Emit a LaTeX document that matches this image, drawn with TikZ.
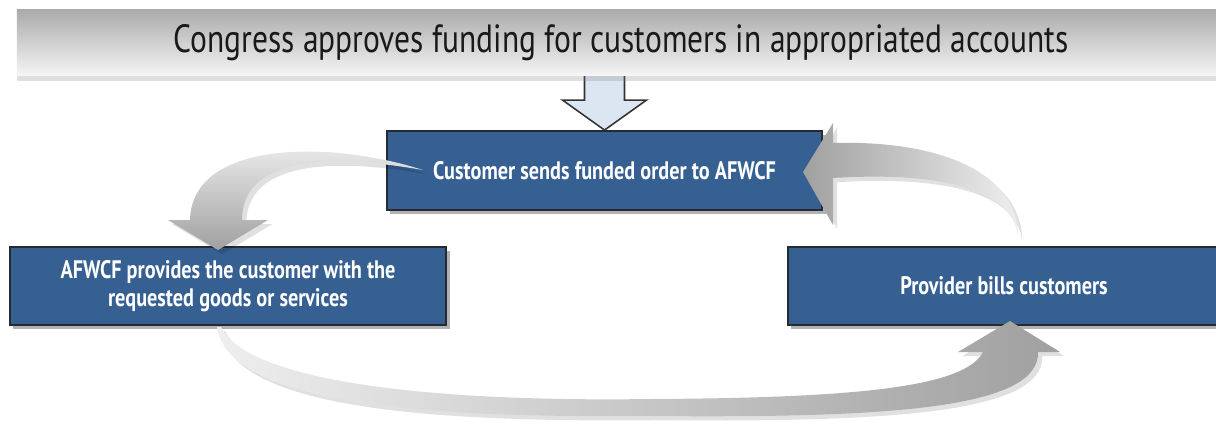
\documentclass[tikz,border=0pt]{standalone}
\usepackage{fontspec}
\setmainfont{PT Sans}[FakeStretch=0.8]
\usetikzlibrary{calc,shadows}
\definecolor{boxBlue}{RGB}{54,95,146}
\definecolor{boxEdge}{RGB}{38,42,50}
\definecolor{downFill}{RGB}{220,230,242}
\definecolor{flowGray}{RGB}{160,160,160}
\definecolor{flowLight}{RGB}{238,238,238}

\tikzset{
  stepbox/.style={draw=boxEdge,fill=boxBlue,line width=1.3pt,text=white,align=center,inner sep=0pt,
    font=\fontsize{18}{20}\selectfont\bfseries,
    drop shadow={shadow xshift=2.5pt,shadow yshift=-3pt,fill=black,opacity=0.3}},
  flowarrow/.style={draw=none,drop shadow={shadow xshift=3pt,shadow yshift=-3pt,fill=black,opacity=0.12}}
}

\begin{document}
\begin{tikzpicture}[x=0.025cm,y=-0.025cm]
\useasboundingbox (0,0) rectangle (1216,423);

% the three steps
\node[stepbox,minimum width=10.875cm,minimum height=1.975cm] (order) at (604.5,170.5) {Customer sends funded order to AFWCF};
\node[stepbox,minimum width=10.9cm,minimum height=1.95cm] (provide) at (228,286) {AFWCF provides the customer with the\\requested goods or services};
\node[stepbox,minimum width=10.8cm,minimum height=1.95cm,anchor=west] (bills) at (787,286) {Provider bills customers};

% funding arrow
\draw[fill=downFill,draw=black!80,line width=1.1pt,line join=miter] (order.north) -- ++(-42,-30) -- ++(22,0) -- ++(0,-30) -- ++(40,0) -- ++(0,30) -- ++(22,0) -- cycle;

\node[minimum width=30.2cm,minimum height=1.625cm,inner sep=0pt,top color=black!33,bottom color=white!96!black,
  drop shadow={shadow xshift=0pt,shadow yshift=-4pt,opacity=0.25},
  font=\fontsize{28}{32}\selectfont,text=black!90] (banner) at (621,42.5) {Congress approves funding for customers in appropriated accounts};

% curved flows
\path[flowarrow,top color=flowLight,bottom color=flowGray] (423,170) .. controls (330,140) and (192,140) .. (190,220) -- (168,220) -- (218,250) -- (268,220) -- (242,220) .. controls (242,160) and (320,152) .. (423,170) -- cycle;
\path[flowarrow,left color=flowGray,right color=flowLight] (1018,237) .. controls (1012,185) and (930,172) .. (833,178) -- (833,225) -- (803,172) -- (833,123) -- (833,143) .. controls (935,140) and (1018,170) .. (1018,237) -- cycle;
\path[flowarrow,left color=flowLight,right color=flowGray] (217,327) .. controls (228,405) and (430,418) .. (650,416) .. controls (880,418) and (1040,410) .. (1038,352) -- (1060,352) -- (1010,321) -- (958,352) -- (983,352) .. controls (965,388) and (850,398) .. (650,399) .. controls (450,402) and (250,385) .. (221,327) -- cycle;
\end{tikzpicture}
\end{document}
